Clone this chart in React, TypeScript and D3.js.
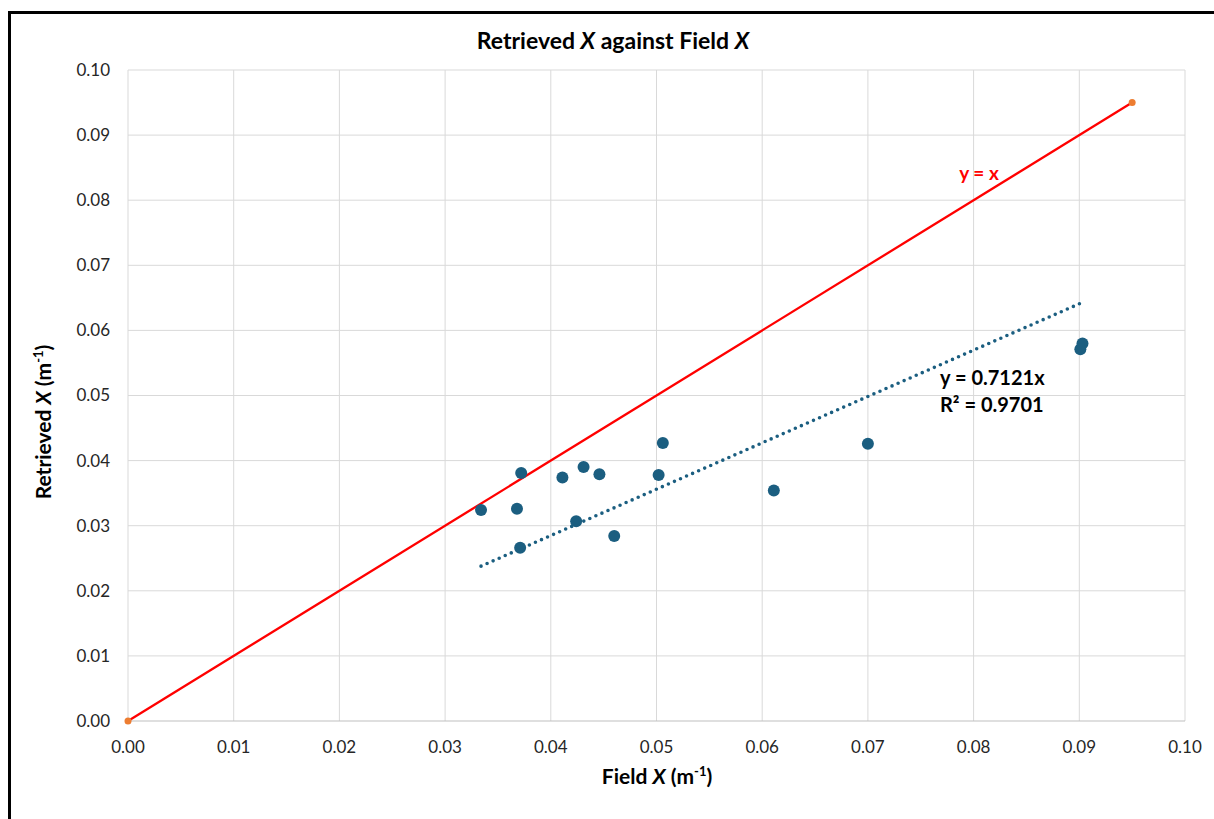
import React from 'react';
import * as d3 from 'd3';

// field values (m-1) and retrieved values
const fieldX = [0.0334, 0.0368, 0.0372, 0.0371, 0.0411, 0.0424, 0.0431, 0.0446, 0.0460, 0.0502, 0.0506, 0.0611, 0.0700, 0.0903, 0.0901];
const retrievedX = [0.0324, 0.0326, 0.0381, 0.0266, 0.0374, 0.0307, 0.0390, 0.0379, 0.0284, 0.0378, 0.0427, 0.0354, 0.0426, 0.0580, 0.0571];
const oneToOne = [0, 0.095];
const slope = 0.7121;
const rSquared = 0.9701;
const tickValues = [0, 0.01, 0.02, 0.03, 0.04, 0.05, 0.06, 0.07, 0.08, 0.09, 0.1];

const W = 1214;
const H = 819;
const margin = { top: 70, right: 29, bottom: 98, left: 128 };
const font = 'Lato, "Open Sans", sans-serif';

const App = () => {
  const x = d3.scaleLinear().domain([0, 0.1]).range([margin.left, W - margin.right]);
  const y = d3.scaleLinear().domain([0, 0.1]).range([H - margin.bottom, margin.top]);
  const fmt = d3.format('.2f');

  const line = d3.line<number>().x(d => x(d)).y(d => y(d));
  const trendX = d3.extent(fieldX) as [number, number];
  const trend = d3.line<number>().x(d => x(d)).y(d => y(slope * d));

  const bottom = H - margin.bottom;

  return (
    <svg width={W} height={H} style={{ position: 'absolute', left: 0, top: 0, background: '#fff' }}>
      <rect x={9.5} y={12.5} width={1300} height={900} fill="none" stroke="#000" strokeWidth={3} />

      {/* grid */}
      {tickValues.map(t => (
        <line key={'gx' + t} x1={x(t)} x2={x(t)} y1={y(0.1)} y2={bottom} stroke="#d9d9d9" strokeWidth={1} />
      ))}
      {tickValues.map(t => (
        <line key={'gy' + t} x1={x(0)} x2={x(0.1)} y1={y(t)} y2={y(t)} stroke={t === 0 ? '#bfbfbf' : '#d9d9d9'} strokeWidth={1} />
      ))}

      {/* tick labels */}
      {tickValues.map(t => (
        <text key={'ty' + t} x={110} y={y(t)} dy="0.35em" textAnchor="end" fontFamily={font} fontSize={17} fill="#262626">
          {fmt(t)}
        </text>
      ))}
      {tickValues.map(t => (
        <text key={'tx' + t} x={x(t)} y={bottom + 32} textAnchor="middle" fontFamily={font} fontSize={17} fill="#262626">
          {fmt(t)}
        </text>
      ))}

      {/* y = x */}
      <path d={line(oneToOne) || ''} fill="none" stroke="#ff0000" strokeWidth={2.3} />
      {oneToOne.map(v => (
        <circle key={'o' + v} cx={x(v)} cy={y(v)} r={3.5} fill="#ed7d31" />
      ))}

      {/* trendline */}
      <path d={trend(trendX) || ''} fill="none" stroke="#1b5e80" strokeWidth={3.6} strokeDasharray="0 6.6" strokeLinecap="round" />

      {/* points */}
      {fieldX.map((fx, i) => (
        <circle key={'p' + i} cx={x(fx)} cy={y(retrievedX[i])} r={6} fill="#1b5e80" />
      ))}

      {/* annotations */}
      <text x={979} y={180} textAnchor="middle" fontFamily={font} fontSize={19} fontWeight="bold" fill="#ff0000">y = x</text>
      <text x={940} y={385} fontFamily={font} fontSize={20} fontWeight="bold" fill="#000">y = {slope}x</text>
      <text x={940} y={412} fontFamily={font} fontSize={20} fontWeight="bold" fill="#000">R² = {rSquared}</text>

      {/* title */}
      <text x={613} y={49} textAnchor="middle" fontFamily={font} fontSize={23} fontWeight="bold" fill="#000">
        Retrieved <tspan fontStyle="italic">X</tspan> against Field <tspan fontStyle="italic">X</tspan>
      </text>

      {/* axis titles */}
      <text x={657} y={784} textAnchor="middle" fontFamily={font} fontSize={21} fontWeight="bold" fill="#000">
        Field <tspan fontStyle="italic">X</tspan> (m<tspan fontSize={13} dy={-8}>-1</tspan><tspan dy={8}>)</tspan>
      </text>
      <text transform={`translate(51, 422) rotate(-90)`} textAnchor="middle" fontFamily={font} fontSize={21} fontWeight="bold" fill="#000">
        Retrieved <tspan fontStyle="italic">X</tspan> (m<tspan fontSize={13} dy={-8}>-1</tspan><tspan dy={8}>)</tspan>
      </text>
    </svg>
  );
};

export default App;
